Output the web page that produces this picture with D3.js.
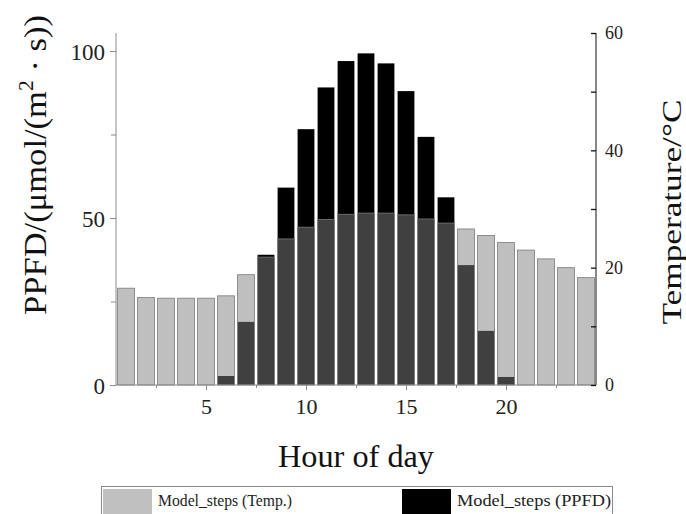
<!DOCTYPE html>
<html>
<head>
<meta charset="utf-8">
<script src="https://cdn.jsdelivr.net/npm/d3@7"></script>
<style>
  body { margin: 0; background: #fff; }
  svg { display: block; font-family: "Liberation Serif", "DejaVu Serif", serif; }
</style>
</head>
<body>
<div id="chart"></div>
<script>
// hours of the day
const hours = d3.range(1, 25);
// temperature, right axis (°C)
const temp = [16.5, 14.9, 14.8, 14.8, 14.8, 15.2, 18.8, 21.8, 24.9, 26.9, 28.2, 29.1,
  29.3, 29.3, 29.0, 28.3, 27.6, 26.6, 25.5, 24.3, 23.0, 21.5, 20.0, 18.3];
// PPFD, left axis
const ppfd = [0, 0, 0, 0, 0, 2.7, 18.9, 39.0, 59.1, 76.6, 89.1, 97.0,
  99.3, 96.3, 88.0, 74.3, 56.2, 35.9, 16.2, 2.4, 0, 0, 0, 0];
const xTicks = [5, 10, 15, 20];
const xMinor = [2.5, 7.5, 12.5, 17.5, 22.5];
const leftTicks = [0, 50, 100];
const leftMinor = [25, 75];
const rightTicks = [0, 20, 40, 60];
const rightMinor = [10, 30, 50];

const W = 686, H = 514;
const plot = { left: 116, right: 596, top: 33, bottom: 385 };

const svg = d3.select("#chart").append("svg")
  .attr("width", W)
  .attr("height", H);

svg.append("rect").attr("width", W).attr("height", H).attr("fill", "#fff");

const x = d3.scaleLinear().domain([0.5, 24.5]).range([plot.left, plot.right]);
const yL = d3.scaleLinear().domain([0, 105.4]).range([plot.bottom, plot.top]);
const yR = d3.scaleLinear().domain([0, 60]).range([plot.bottom, plot.top]);

const bw = (x(1) - x(0)) * 0.84;

// PPFD bars (black)
svg.selectAll(".bar.ppfd")
  .data(hours.filter((h, i) => ppfd[i] > 0))
  .enter()
  .append("rect")
  .attr("class", "bar ppfd")
  .attr("x", h => x(h) - bw / 2)
  .attr("y", h => yL(ppfd[h - 1]))
  .attr("width", bw)
  .attr("height", h => yL(0) - yL(ppfd[h - 1]))
  .attr("fill", "#000");

// temperature bars, half transparent grey on top
svg.selectAll(".bar.temp")
  .data(hours)
  .enter()
  .append("rect")
  .attr("class", "bar temp")
  .attr("x", h => x(h) - bw / 2)
  .attr("y", h => yR(temp[h - 1]))
  .attr("width", bw)
  .attr("height", h => yR(0) - yR(temp[h - 1]))
  .attr("fill", "#808080")
  .attr("fill-opacity", 0.5)
  .attr("stroke", "#7a7a7a")
  .attr("stroke-width", 0.8);

// bottom axis
const xAxis = svg.append("g")
  .attr("transform", "translate(0," + plot.bottom + ")")
  .call(d3.axisBottom(x).tickValues(xTicks).tickSize(5).tickFormat(d3.format("d")));
svg.append("g")
  .attr("transform", "translate(0," + plot.bottom + ")")
  .call(d3.axisBottom(x).tickValues(xMinor).tickSize(3).tickFormat(""))
  .call(g => g.select(".domain").remove());

// left axis
const leftAxis = svg.append("g")
  .attr("transform", "translate(" + plot.left + ",0)")
  .call(d3.axisLeft(yL).tickValues(leftTicks).tickSize(6));
svg.append("g")
  .attr("transform", "translate(" + plot.left + ",0)")
  .call(d3.axisLeft(yL).tickValues(leftMinor).tickSize(5).tickFormat(""))
  .call(g => g.select(".domain").remove());

[xAxis, leftAxis].forEach(g => {
  g.select(".domain").attr("stroke", "#8a8a8a").attr("d",
    g === xAxis ? "M" + plot.left + ",0H" + plot.right : "M0," + plot.top + "V" + plot.bottom);
});
svg.selectAll(".tick line").attr("stroke", "#8a8a8a");

xAxis.selectAll("text").attr("font-size", 22).attr("fill", "#222").attr("dy", "0.95em")
  .attr("font-family", "Liberation Serif");
leftAxis.selectAll("text").attr("font-size", 23).attr("fill", "#222").attr("dy", "0.36em")
  .attr("x", -11).attr("font-family", "Liberation Serif");

// right axis (ticks inward)
const rightAxis = svg.append("g")
  .attr("transform", "translate(" + plot.right + ",0)")
  .call(d3.axisRight(yR).tickValues(rightTicks).tickSize(-5).tickPadding(9));
const rightMinorAxis = svg.append("g")
  .attr("transform", "translate(" + plot.right + ",0)")
  .call(d3.axisRight(yR).tickValues(rightMinor).tickSize(-5).tickFormat(""))
  .call(g => g.select(".domain").remove());
rightAxis.select(".domain").attr("stroke", "#111").attr("d", "M0," + plot.top + "V" + plot.bottom);
rightAxis.selectAll(".tick line").attr("stroke", "#111").attr("stroke-width", 1.3);
rightMinorAxis.selectAll(".tick line").attr("stroke", "#111").attr("stroke-width", 1.3);
rightAxis.selectAll("text").attr("font-size", 18).attr("fill", "#222")
  .attr("font-family", "Liberation Serif");

// axis titles
const leftTitle = svg.append("text")
  .attr("transform", "translate(46,165) rotate(-90)")
  .attr("text-anchor", "middle")
  .attr("font-size", 32)
  .attr("fill", "#111")
  .attr("textLength", 300)
  .attr("lengthAdjust", "spacingAndGlyphs");
leftTitle.append("tspan").text("PPFD/(μmol/(m");
leftTitle.append("tspan").attr("font-size", 20).attr("dy", -13).text("2");
leftTitle.append("tspan").attr("dy", 13).text(" · s))");

svg.append("text")
  .attr("transform", "translate(681,212) rotate(-90)")
  .attr("text-anchor", "middle")
  .attr("font-size", 28)
  .attr("fill", "#111")
  .attr("textLength", 225)
  .attr("lengthAdjust", "spacingAndGlyphs")
  .text("Temperature/°C");

svg.append("text")
  .attr("x", 356)
  .attr("y", 467)
  .attr("text-anchor", "middle")
  .attr("font-size", 31)
  .attr("fill", "#111")
  .attr("textLength", 156)
  .attr("lengthAdjust", "spacingAndGlyphs")
  .text("Hour of day");

// legend
const legend = svg.append("g").attr("class", "legend");
legend.append("rect")
  .attr("x", 101.5).attr("y", 486.5)
  .attr("width", 511).attr("height", 40)
  .attr("fill", "#fff").attr("stroke", "#8a8a8a");
legend.append("rect")
  .attr("x", 103).attr("y", 489).attr("width", 49).attr("height", 30)
  .attr("fill", "#c0c0c0");
legend.append("text")
  .attr("x", 158).attr("y", 506)
  .attr("font-size", 16).attr("fill", "#222")
  .attr("textLength", 134)
  .attr("lengthAdjust", "spacingAndGlyphs")
  .text("Model_steps (Temp.)");
legend.append("rect")
  .attr("x", 402).attr("y", 489).attr("width", 49).attr("height", 30)
  .attr("fill", "#000");
legend.append("text")
  .attr("x", 457).attr("y", 506)
  .attr("font-size", 16).attr("fill", "#222")
  .attr("textLength", 154)
  .attr("lengthAdjust", "spacingAndGlyphs")
  .text("Model_steps (PPFD)");
</script>
</body>
</html>
